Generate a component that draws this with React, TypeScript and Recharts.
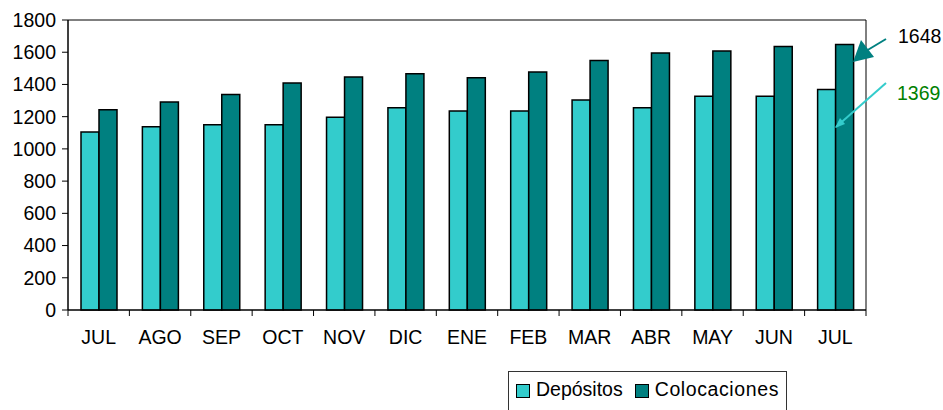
import React from 'react';
import { BarChart, Bar, XAxis, YAxis, ReferenceArea } from 'recharts';

// months shown on the axis (two JULs, so keys are made unique below)
const months = ['JUL', 'AGO', 'SEP', 'OCT', 'NOV', 'DIC', 'ENE', 'FEB', 'MAR', 'ABR', 'MAY', 'JUN', 'JUL'];
const depositos = [1105, 1138, 1150, 1150, 1196, 1256, 1235, 1235, 1303, 1256, 1326, 1326, 1369];
const colocaciones = [1243, 1291, 1337, 1409, 1446, 1467, 1442, 1477, 1548, 1595, 1608, 1635, 1648];
const yTicks = [0, 200, 400, 600, 800, 1000, 1200, 1400, 1600, 1800];

const seriesNames = ['Depósitos', 'Colocaciones'];
const seriesColors = ['#33CCCC', '#008080'];

const W = 943;
const H = 410;
const margin = { top: 20, right: 77, left: 8, bottom: 70 };
const Y_W = 60;
const PLOT_W = W - margin.left - Y_W - margin.right;
const STEP = PLOT_W / months.length;

const data = months.map((m, i) => ({
    key: `${m}-${i}`,
    label: m,
    dep: depositos[i],
    col: colocaciones[i],
}));

const FONT = '"Liberation Sans", Arial, sans-serif';
const FS = 19.5;

const MonthTick = (props: any) => {
    const { x, y, payload, index } = props;
    const axisY = y - 8;
    return (
        <g>
            <line x1={x - STEP / 2} x2={x - STEP / 2} y1={axisY} y2={axisY + 6} stroke="#000" />
            {index === months.length - 1 && (
                <line x1={x + STEP / 2} x2={x + STEP / 2} y1={axisY} y2={axisY + 6} stroke="#000" />
            )}
            <text x={x} y={y} dy={26} textAnchor="middle" fill="#000" fontSize={FS} fontFamily={FONT}>
                {months[index] ?? payload.value}
            </text>
        </g>
    );
};

export default function App() {
    return (
        <div style={{ position: 'absolute', left: 0, top: 0, width: W, height: H, background: '#fff', overflow: 'hidden' }}>
            <BarChart
                width={W}
                height={H}
                data={data}
                margin={margin}
                barGap={0}
                barSize={18}
            >
                <XAxis
                    dataKey="key"
                    axisLine={{ stroke: '#000' }}
                    tickLine={false}
                    interval={0}
                    tickMargin={2}
                    tick={<MonthTick />}
                />
                <YAxis
                    domain={[0, 1800]}
                    ticks={yTicks}
                    width={Y_W}
                    axisLine={{ stroke: '#000' }}
                    tickLine={{ stroke: '#000' }}
                    tickSize={6}
                    tickMargin={6}
                    interval={0}
                    tick={{ fill: '#000', fontSize: FS, fontFamily: FONT }}
                />
                <ReferenceArea y1={0} y2={1800} fill="none" stroke="#000" ifOverflow="visible" />
                <Bar dataKey="dep" name={seriesNames[0]} fill={seriesColors[0]} stroke="#000" strokeWidth={1.5} isAnimationActive={false} />
                <Bar dataKey="col" name={seriesNames[1]} fill={seriesColors[1]} stroke="#000" strokeWidth={1.5} isAnimationActive={false} />
            </BarChart>

            {/* callouts for the last month */}
            <svg width={W} height={H} style={{ position: 'absolute', left: 0, top: 0, pointerEvents: 'none' }}>
                <line x1={886} y1={39} x2={866} y2={51} stroke="#008080" strokeWidth={2} />
                <polygon points="853,62 861,40 874,57" fill="#008080" />
                <line x1={886} y1={83} x2={836} y2={127} stroke="#33CCCC" strokeWidth={2} />
                <polygon points="835,128 840,118 845,124" fill="#33CCCC" />
                <text x={898} y={43} fontSize={FS} fontFamily={FONT} fill="#000">{colocaciones[12]}</text>
                <text x={897} y={100} fontSize={FS} fontFamily={FONT} fill="#008000">{depositos[12]}</text>
            </svg>

            {/* legend box */}
            <div
                style={{
                    position: 'absolute',
                    left: 508,
                    top: 371,
                    width: 279,
                    height: 50,
                    border: '1px solid #333',
                    boxSizing: 'border-box',
                    fontFamily: FONT,
                    fontSize: FS,
                    lineHeight: '22px',
                    display: 'flex',
                    alignItems: 'flex-start',
                    paddingTop: 6,
                    paddingLeft: 7,
                }}
            >
                {seriesNames.map((n, i) => (
                    <div key={n} style={{ display: 'flex', alignItems: 'center', marginRight: 12 }}>
                        <span
                            style={{
                                display: 'inline-block',
                                width: 12,
                                height: 12,
                                background: seriesColors[i],
                                border: '1px solid #000',
                                marginRight: 6,
                                marginTop: 3,
                            }}
                        />
                        <span style={{ letterSpacing: i === 1 ? 0.6 : 0 }}>{n}</span>
                    </div>
                ))}
            </div>
        </div>
    );
}
